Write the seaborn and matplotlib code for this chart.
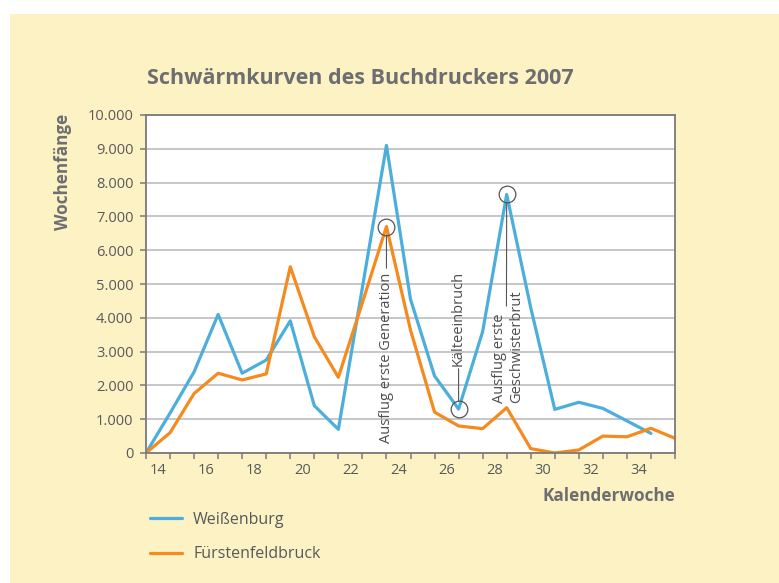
import matplotlib
matplotlib.use("Agg")
import matplotlib.pyplot as plt
import matplotlib.ticker as mticker
from matplotlib.patches import Rectangle
import seaborn as sns
import pandas as pd
import numpy as np

# weekly catches (index 0 = first week point)
weissenburg = [0, 1180, 2400, 4100, 2360, 2750, 3910, 1400, 700, 4900, 9100,
               4550, 2280, 1300, 3590, 7650, 4300, 1290, 1500, 1320, 950, 580]
fuerstenfeldbruck = [0, 600, 1760, 2360, 2160, 2340, 5510, 3440, 2240, 4450, 6700,
                     3640, 1210, 800, 720, 1340, 130, 0, 90, 500, 480, 730, 435]
week_labels = ["14", "16", "18", "20", "22", "24", "26", "28", "30", "32", "34"]
series_names = ["Weißenburg", "Fürstenfeldbruck"]
colors = ["#4BAEDB", "#F58A1F"]

sns.set_theme(style="white")
plt.rcParams["font.family"] = ["Open Sans", "DejaVu Sans"]

TEXT = "#58595b"
df = pd.concat([
    pd.DataFrame({"k": range(len(weissenburg)), "n": weissenburg, "ort": series_names[0]}),
    pd.DataFrame({"k": range(len(fuerstenfeldbruck)), "n": fuerstenfeldbruck, "ort": series_names[1]}),
])

fig = plt.figure(figsize=(7.79, 5.83), dpi=100, facecolor="white")
fig.patches.append(Rectangle((10 / 779, 0), 1, 1 - 14 / 583, transform=fig.transFigure,
                             facecolor="#FDF2C4", edgecolor="none", zorder=-10))
ax = fig.add_axes([146 / 779, 1 - 453 / 583, 529 / 779, 338 / 583])
ax.set_facecolor("white")

sns.lineplot(data=df, x="k", y="n", hue="ort", palette=colors, linewidth=2.3,
             ax=ax, legend=True)

ax.set_xlim(0, len(fuerstenfeldbruck) - 1)
ax.set_ylim(0, 10000)
ax.set_yticks(np.arange(0, 10001, 1000))
ax.yaxis.set_major_formatter(mticker.FuncFormatter(lambda v, p: f"{v:,.0f}".replace(",", ".")))
ax.set_xticks(np.arange(len(week_labels)) * 2 + 0.5)
ax.set_xticklabels(week_labels)
ax.set_xticks(np.arange(len(fuerstenfeldbruck)), minor=True)
ax.tick_params(axis="x", which="major", length=0, pad=7, labelsize=10.5, labelcolor=TEXT)
ax.tick_params(axis="x", which="minor", length=4, width=1.1, color="#7a7a7a", direction="out", bottom=True)
ax.tick_params(axis="y", length=4.5, width=1.1, color="#7a7a7a", direction="out", left=True,
               pad=4.5, labelsize=10.5, labelcolor=TEXT)
ax.grid(axis="y", color="#bdbec2", linewidth=1.2)
ax.set_axisbelow(True)
for sp in ax.spines.values():
    sp.set_color("#7a7a7a")
    sp.set_linewidth(1.3)
ax.set_xlabel("")
ax.set_ylabel("")

sns.move_legend(ax, loc="upper left", bbox_to_anchor=(150 / 779, 1 - 512 / 583),
                bbox_transform=fig.transFigure, title=None, frameon=False, borderpad=0,
                borderaxespad=0, fontsize=11.5, handlelength=2.0, handletextpad=0.7,
                labelspacing=1.15, labelcolor=TEXT)

# annotations
circ = dict(marker="o", markersize=12, markerfacecolor="none",
            markeredgecolor="#555555", markeredgewidth=0.9, linestyle="none", zorder=5)
ann = dict(textcoords="offset points", rotation=90, ha="center", fontsize=10.5, color="#4d4d4f")
ax.plot(10, fuerstenfeldbruck[10], **circ)
ax.annotate("Ausflug erste Generation", xy=(10, fuerstenfeldbruck[10]), xytext=(0, -33), va="top",
            arrowprops=dict(arrowstyle="-", color="#555555", lw=0.8, patchA=None,
                            relpos=(0.5, 1), shrinkA=3, shrinkB=6), **ann)
ax.plot(13, weissenburg[13], **circ)
ax.annotate("Kälteeinbruch", xy=(13, weissenburg[13]), xytext=(0, 31), va="bottom",
            arrowprops=dict(arrowstyle="-", color="#555555", lw=0.8, patchA=None,
                            relpos=(0.5, 0), shrinkA=2, shrinkB=6), **ann)
ax.plot(15, weissenburg[15], **circ)
ax.annotate("Ausflug erste\nGeschwisterbrut", xy=(15, weissenburg[15]), xytext=(1, -69), va="top",
            multialignment="left", linespacing=1.2,
            arrowprops=dict(arrowstyle="-", color="#555555", lw=0.8, patchA=None,
                            relpos=(0.45, 0.86), shrinkA=0, shrinkB=6), **ann)

fig.text(147 / 779, 1 - 79 / 583, "Schwärmkurven des Buchdruckers 2007", fontsize=15.5,
         fontweight="bold", color="#6d6e70", va="center", ha="left")
fig.text(63 / 779, 1 - 172 / 583, "Wochenfänge", rotation=90, fontsize=12.3, fontweight="bold",
         color="#6d6e70", va="center", ha="center")
fig.text(675 / 779, 1 - 496 / 583, "Kalenderwoche", fontsize=12.3, fontweight="bold",
         color="#6d6e70", va="center", ha="right")

fig.savefig("out.png", dpi=100, facecolor=fig.get_facecolor())
